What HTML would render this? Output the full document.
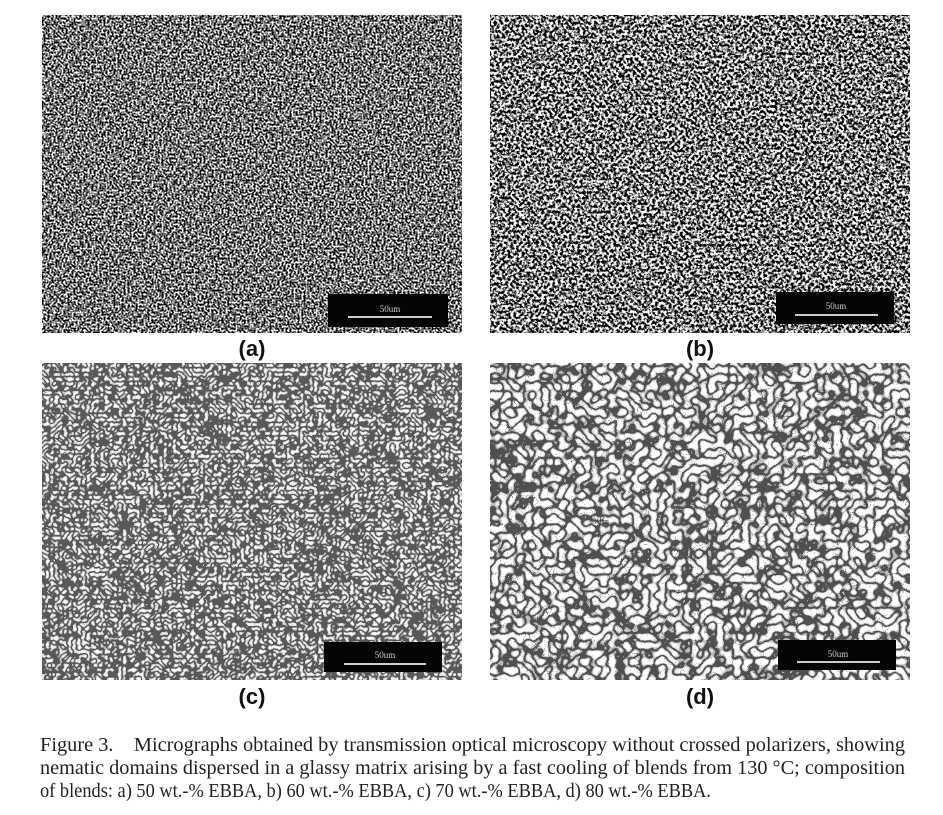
<!DOCTYPE html>
<html><head><meta charset="utf-8"><style>
body{margin:0;background:#fff;width:943px;height:815px;overflow:hidden;position:relative;font-family:"Liberation Serif",serif}
.lbl{position:absolute;font-family:"Liberation Sans",sans-serif;font-weight:bold;font-size:22px;color:#111;transform:translateX(-50%)}
</style></head><body>
<svg width="943" height="815" style="position:absolute;left:0;top:0">
<defs>
<filter id="ga" x="0" y="0" width="100%" height="100%"><feTurbulence type="fractalNoise" baseFrequency="0.5" numOctaves="2" seed="3"/><feColorMatrix type="matrix" values="1.8 0 0 0 -0.4  1.8 0 0 0 -0.4  1.8 0 0 0 -0.4  0 0 0 0 1"/><feComponentTransfer><feFuncR type="discrete" tableValues="0 0 0.05 0.4 0.95 1"/><feFuncG type="discrete" tableValues="0 0 0.05 0.4 0.95 1"/><feFuncB type="discrete" tableValues="0 0 0.05 0.4 0.95 1"/></feComponentTransfer></filter>
<filter id="gb" x="0" y="0" width="100%" height="100%"><feTurbulence type="fractalNoise" baseFrequency="0.36" numOctaves="2" seed="7"/><feColorMatrix type="matrix" values="1.8 0 0 0 -0.4  1.8 0 0 0 -0.4  1.8 0 0 0 -0.4  0 0 0 0 1"/><feComponentTransfer><feFuncR type="discrete" tableValues="0 0 0.05 0.5 1 1"/><feFuncG type="discrete" tableValues="0 0 0.05 0.5 1 1"/><feFuncB type="discrete" tableValues="0 0 0.05 0.5 1 1"/></feComponentTransfer></filter>
<filter id="gc" x="0" y="0" width="100%" height="100%"><feTurbulence type="turbulence" baseFrequency="0.22" numOctaves="1" seed="11"/><feColorMatrix type="matrix" values="2 0 0 0 -0.1  2 0 0 0 -0.1  2 0 0 0 -0.1  0 0 0 0 1"/><feComponentTransfer><feFuncR type="discrete" tableValues="0.1 0.55 0.85 0.97"/><feFuncG type="discrete" tableValues="0.1 0.55 0.85 0.97"/><feFuncB type="discrete" tableValues="0.1 0.55 0.85 0.97"/></feComponentTransfer></filter>
<filter id="gd" x="0" y="0" width="100%" height="100%"><feTurbulence type="turbulence" baseFrequency="0.12" numOctaves="1" seed="5"/><feColorMatrix type="matrix" values="2.2 0 0 0 -0.05  2.2 0 0 0 -0.05  2.2 0 0 0 -0.05  0 0 0 0 1"/><feComponentTransfer><feFuncR type="discrete" tableValues="0.08 0.5 0.88 0.98 1"/><feFuncG type="discrete" tableValues="0.08 0.5 0.88 0.98 1"/><feFuncB type="discrete" tableValues="0.08 0.5 0.88 0.98 1"/></feComponentTransfer></filter>
</defs>
<g><rect x="42" y="15" width="420" height="318" filter="url(#ga)"/><rect x="328" y="294" width="120" height="33" fill="#050505"/><line x1="348" y1="317" x2="432" y2="317" stroke="#ccc" stroke-width="2"/><text x="390" y="312" font-size="9" fill="#ccc" text-anchor="middle">50um</text></g>
<g><rect x="490" y="15" width="420" height="318" filter="url(#gb)"/><rect x="776" y="292" width="118" height="32" fill="#050505"/><line x1="795" y1="315" x2="878" y2="315" stroke="#ccc" stroke-width="2"/><text x="836" y="309" font-size="9" fill="#ccc" text-anchor="middle">50um</text></g>
<g><rect x="42" y="363" width="420" height="317" filter="url(#gc)"/><rect x="324" y="642" width="118" height="30" fill="#050505"/><line x1="344" y1="664" x2="426" y2="664" stroke="#ccc" stroke-width="2"/><text x="385" y="658" font-size="9" fill="#ccc" text-anchor="middle">50um</text></g>
<g><rect x="490" y="363" width="420" height="317" filter="url(#gd)"/><rect x="778" y="640" width="118" height="30" fill="#050505"/><line x1="797" y1="662" x2="880" y2="662" stroke="#ccc" stroke-width="2"/><text x="838" y="657" font-size="9" fill="#ccc" text-anchor="middle">50um</text></g>
<g font-family="Liberation Serif, serif" font-size="19.5" fill="#222">
<text x="40" y="751" textLength="865" lengthAdjust="spacingAndGlyphs" xml:space="preserve">Figure 3.    Micrographs obtained by transmission optical microscopy without crossed polarizers, showing</text>
<text x="40" y="774" textLength="865" lengthAdjust="spacingAndGlyphs">nematic domains dispersed in a glassy matrix arising by a fast cooling of blends from 130 °C; composition</text>
<text x="40" y="797" textLength="671" lengthAdjust="spacingAndGlyphs">of blends: a) 50 wt.-% EBBA, b) 60 wt.-% EBBA, c) 70 wt.-% EBBA, d) 80 wt.-% EBBA.</text>
</g>
</svg>
<div class="lbl" style="left:252px;top:336px">(a)</div>
<div class="lbl" style="left:700px;top:336px">(b)</div>
<div class="lbl" style="left:252px;top:684px">(c)</div>
<div class="lbl" style="left:700px;top:684px">(d)</div>
</body></html>
